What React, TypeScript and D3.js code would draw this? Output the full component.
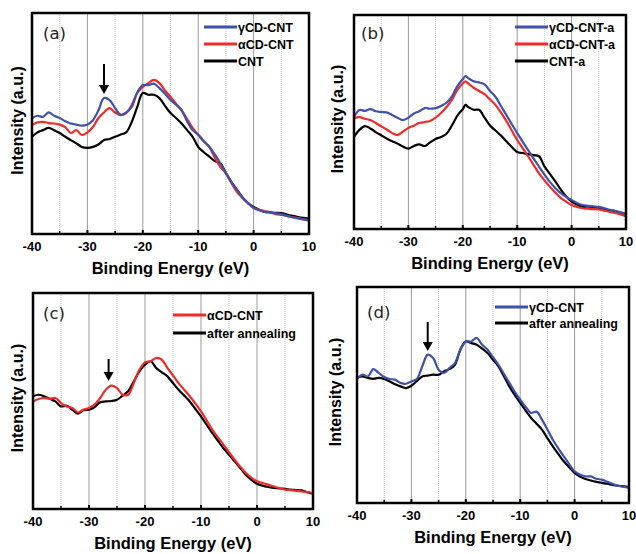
import React, { useEffect, useRef } from 'react';
import * as d3 from 'd3';

type Pt = [number, number];

// panel (a)
const aGamma: Pt[] = [[-40,52.5],[-39,53.5],[-38,53],[-37,55],[-36,53.5],[-35,52.5],[-34,51],[-33,50],[-32,49.5],[-31,49],[-30,49.5],[-29,51.5],[-28,56],[-27,61.5],[-26,60.6],[-25,57],[-24,54],[-23,55],[-22,57.5],[-21,64],[-20,67.4],[-19,67.4],[-18,68],[-17,66],[-16,63.5],[-15,60.6],[-14,58.5],[-13,56],[-12,51],[-11,47],[-10,45],[-9,42],[-8,39.5],[-7,36],[-6,32],[-5,27.5],[-4,23.5],[-3,20],[-2,16.5],[-1,14],[0,11.8],[1,10.8],[2,10],[3,9.8],[4,9.3],[5,9],[6,8.2],[7,7.6],[8,7],[9,6.6],[10,6.3]];
const aAlpha: Pt[] = [[-40,49.3],[-39,50.5],[-38,50.7],[-37,50.2],[-36,50],[-35,49.5],[-34,48.4],[-33,45.7],[-32,47],[-31,44.8],[-30,46],[-29,48.4],[-28,52.5],[-27,55],[-26,57],[-25,55],[-24,53.8],[-23,54.7],[-22,58.4],[-21,63.8],[-20,66.5],[-19,68.3],[-18,69.7],[-17,68.3],[-16,65],[-15,62],[-14,59],[-13,56],[-12,52],[-11,48],[-10,44.8],[-9,42],[-8,39.4],[-7,34.5],[-6,30.3],[-5,27.6],[-4,23],[-3,19],[-2,16.3],[-1,14],[0,11.8],[1,11],[2,10.4],[3,9.8],[4,9],[5,8.6],[6,8.2],[7,7.6],[8,7.2],[9,6.6],[10,6]];
const aCnt: Pt[] = [[-40,44],[-39,46],[-38,47],[-37,48],[-36,47],[-35,45.7],[-34,44],[-33,42.5],[-32,41],[-31,39.4],[-30,39],[-29,39.4],[-28,40.5],[-27,42.5],[-26,43],[-25,44],[-24,45],[-23,46],[-22,50.7],[-21,57.5],[-20,63.8],[-19,63],[-18,63],[-17,61.5],[-16,58],[-15,54.7],[-14,52.5],[-13,50],[-12,47],[-11,44],[-10,39.4],[-9,37],[-8,35],[-7,33],[-6,32],[-5,27.6],[-4,23.5],[-3,20],[-2,16.5],[-1,14],[0,12.2],[1,11],[2,10],[3,9.8],[4,9.6],[5,9.5],[6,8.8],[7,8.2],[8,7.7],[9,7.3],[10,7]];

// panel (b)
const bGamma: Pt[] = [[-40,52.3],[-39,55.6],[-38,55.2],[-37,56],[-36,55],[-35,54.7],[-34,54.5],[-33,53.3],[-32,52],[-31,50.9],[-30,52],[-29,54],[-28,55],[-27,56.5],[-26,56.2],[-25,56.5],[-24,57.5],[-23,59],[-22,62],[-21,66.8],[-20,70],[-19.5,71.5],[-19,70.5],[-18,69],[-17,68.5],[-16,67.6],[-15,64.5],[-14,61.8],[-13,57.5],[-12,53.3],[-11,49],[-10,44.8],[-9,40.8],[-8,36.9],[-7,33],[-6,29.2],[-5,25.5],[-4,22],[-3,19.2],[-2,16.8],[-1,15],[0,13.6],[1,12.2],[2,11.2],[3,10.8],[4,10.5],[5,10.3],[6,9.7],[7,9],[8,8.4],[9,7.7],[10,7]];
const bAlpha: Pt[] = [[-40,51.7],[-39,52.3],[-38,51.5],[-37,50.9],[-36,49.5],[-35,48],[-34,46.5],[-33,44.8],[-32,43.9],[-31,45.5],[-30,47.2],[-29,48.3],[-28,49.5],[-27,50],[-26,50.5],[-25,52],[-24,54.2],[-23,57],[-22,60.3],[-21,65],[-20,68],[-19.5,69],[-19,68],[-18,66],[-17,64.5],[-16,63],[-15,60.5],[-14,58],[-13,54.5],[-12,50.5],[-11,46],[-10,41.6],[-9,37.8],[-8,34],[-7,30],[-6,26],[-5,22.8],[-4,19.8],[-3,17],[-2,14.5],[-1,12.8],[0,11.2],[1,10.3],[2,9.7],[3,9.5],[4,9.3],[5,9.2],[6,8.6],[7,8],[8,7.5],[9,6.8],[10,6]];
const bCnt: Pt[] = [[-40,43],[-39,46.3],[-38,48.1],[-37,47],[-36,45.3],[-35,43.8],[-34,42.3],[-33,41],[-32,39.9],[-31,38.5],[-30,37.6],[-29,38.8],[-28,39.5],[-27,38.8],[-26,40.5],[-25,42.1],[-24,43],[-23,44.5],[-22,48.4],[-21,53],[-20,56],[-19.5,58],[-19,57],[-18,55.7],[-17,55.7],[-16,52],[-15,48.4],[-14,46],[-13,43.7],[-12,41],[-11,38.3],[-10,36],[-9,35.5],[-8,35],[-7,34.5],[-6,34],[-5,29.3],[-4,25.8],[-3,22.3],[-2,18.5],[-1,15.2],[0,12.8],[1,11.5],[2,10.3],[3,10.5],[4,10.3],[5,9.8],[6,9.3],[7,8.8],[8,8.4],[9,7.7],[10,7]];

// panel (c)
const cAlpha: Pt[] = [[-40,49.8],[-39,50.9],[-38,51.4],[-37,51],[-36,51.4],[-35,49],[-34,47.5],[-33,46.8],[-32,44.8],[-31,46],[-30,46.8],[-29,48.3],[-28,51.4],[-27,55.2],[-26,57.1],[-25,56],[-24,52.9],[-23,52.9],[-22,58.3],[-21,64.5],[-20,67.9],[-19,68.4],[-18,69.9],[-17,69.1],[-16,65.3],[-15,61.8],[-14,58.3],[-13,55.2],[-12,52.2],[-11,48.8],[-10,45.2],[-9,41],[-8,36.7],[-7,33.2],[-6,29.8],[-5,26.3],[-4,22.8],[-3,19.6],[-2,16.7],[-1,14.5],[0,12.8],[1,12],[2,11.3],[3,10.4],[4,9.6],[5,9],[6,8.7],[7,8.4],[8,8.2],[9,7.8],[10,7.4]];
const cAnneal: Pt[] = [[-40,52.2],[-39,52.9],[-38,52.2],[-37,51],[-36,49.8],[-35,47.5],[-34,47.8],[-33,46],[-32,44.1],[-31,45.7],[-30,46],[-29,47.2],[-28,49.4],[-27,49.8],[-26,50],[-25,50.6],[-24,52.5],[-23,54.5],[-22,59.1],[-21,63.7],[-20,66.8],[-19,68.4],[-18,65.3],[-17,63.3],[-16,61.4],[-15,58.3],[-14,55.2],[-13,52.5],[-12,49.8],[-11,46.3],[-10,42.9],[-9,39],[-8,35.2],[-7,31.7],[-6,28.2],[-5,25.1],[-4,22.1],[-3,19],[-2,15.9],[-1,13.5],[0,11.7],[1,10.8],[2,10.2],[3,9.8],[4,9.5],[5,9.3],[6,9],[7,8.8],[8,8.6],[9,7.8],[10,7.1]];

// panel (d)
const dGamma: Pt[] = [[-40,57.4],[-39,59.4],[-38,58.6],[-37,62],[-36,60.2],[-35,58.3],[-34,57.4],[-33,57.1],[-32,55.6],[-31,55.2],[-30,56.3],[-29,57.4],[-28,63.3],[-27,68.7],[-26,67.1],[-25,61.7],[-24,60.2],[-23,62.5],[-22,64.8],[-21,71],[-20,74.8],[-19,74.8],[-18,76.4],[-17,73.3],[-16,71],[-15,67.5],[-14,64],[-13,59.8],[-12,55.6],[-11,51.5],[-10,47.8],[-9,44.5],[-8,41.7],[-7,42.3],[-6,38.6],[-5,34],[-4,29.3],[-3,25.3],[-2,21.6],[-1,18],[0,14.7],[1,13.2],[2,12.3],[3,12.3],[4,11.2],[5,10.8],[6,9.8],[7,8.8],[8,8],[9,7.5],[10,7]];
const dAnneal: Pt[] = [[-40,57.9],[-39,58.6],[-38,57.9],[-37,57.5],[-36,57.9],[-35,57.4],[-34,56.3],[-33,55],[-32,54],[-31,53.2],[-30,54.3],[-29,56.5],[-28,58.6],[-27,59],[-26,59.4],[-25,59.4],[-24,61],[-23,62],[-22,64],[-21,71],[-20,74.8],[-19,74],[-18,73.3],[-17,71.5],[-16,69.4],[-15,66.3],[-14,63.3],[-13,58.7],[-12,54],[-11,50],[-10,46.3],[-9,42.8],[-8,39.4],[-7,36.7],[-6,34],[-5,30],[-4,26.2],[-3,22.7],[-2,19.3],[-1,16.5],[0,13.9],[1,12.2],[2,11.1],[3,10.4],[4,9.8],[5,9.3],[6,8.9],[7,8.4],[8,8],[9,7.7],[10,7.4]];

const xTicks = [-40, -30, -20, -10, 0, 10];
const xMinor = [-35, -25, -15, -5, 5];
const arrowAt = [-27, -26.5, -27];

const BLUE = '#3f51a8';
const RED = '#f02a2a';
const BLACK = '#000';

interface Panel {
  tag: string;
  left: number; top: number; right: number; bottom: number;
  series: { name: string; data: Pt[]; color: string }[];
  legendX: number; legendY: number; legendGap: number;
  tagX: number; tagY: number;
  titleX: number;
  arrow?: { x: number; y1: number; y2: number };
}

const panels: Panel[] = [
  {
    tag: '(a)', left: 32, top: 13, right: 309, bottom: 234,
    series: [
      { name: 'γCD-CNT', data: aGamma, color: BLUE },
      { name: 'αCD-CNT', data: aAlpha, color: RED },
      { name: 'CNT', data: aCnt, color: BLACK },
    ],
    legendX: 204, legendY: 27, legendGap: 17, tagX: 43, tagY: 39, titleX: 18,
    arrow: { x: arrowAt[0], y1: 64, y2: 94 },
  },
  {
    tag: '(b)', left: 354, top: 15, right: 626, bottom: 229,
    series: [
      { name: 'γCD-CNT-a', data: bGamma, color: BLUE },
      { name: 'αCD-CNT-a', data: bAlpha, color: RED },
      { name: 'CNT-a', data: bCnt, color: BLACK },
    ],
    legendX: 515, legendY: 27, legendGap: 17, tagX: 361, tagY: 39, titleX: 338,
  },
  {
    tag: '(c)', left: 33, top: 293, right: 313, bottom: 509,
    series: [
      { name: 'αCD-CNT', data: cAlpha, color: RED },
      { name: 'after annealing', data: cAnneal, color: BLACK },
    ],
    legendX: 173, legendY: 315, legendGap: 18, tagX: 43, tagY: 319, titleX: 18,
    arrow: { x: arrowAt[1], y1: 359, y2: 381 },
  },
  {
    tag: '(d)', left: 357, top: 287, right: 629, bottom: 503,
    series: [
      { name: 'γCD-CNT', data: dGamma, color: BLUE },
      { name: 'after annealing', data: dAnneal, color: BLACK },
    ],
    legendX: 495, legendY: 307, legendGap: 16, tagX: 367, tagY: 318, titleX: 336,
    arrow: { x: arrowAt[2], y1: 322, y2: 351 },
  },
];

const App = () => {
  const ref = useRef<SVGSVGElement>(null);

  useEffect(() => {
    const svg = d3.select(ref.current);
    svg.selectAll('*').remove();
    const font = 'Liberation Sans, Arial, sans-serif';

    panels.forEach((p) => {
      const x = d3.scaleLinear().domain([-40, 10]).range([p.left, p.right]);
      const y = d3.scaleLinear().domain([0, 100]).range([p.bottom, p.top]);
      const g = svg.append('g');

      // grid
      g.selectAll('.minor').data(xMinor).enter().append('line')
        .attr('x1', (d) => x(d)).attr('x2', (d) => x(d))
        .attr('y1', p.top).attr('y2', p.bottom)
        .attr('stroke', '#c8c8c8').attr('stroke-width', 1).attr('stroke-dasharray', '1,1');
      g.selectAll('.major').data(xTicks.slice(1, -1)).enter().append('line')
        .attr('x1', (d) => x(d)).attr('x2', (d) => x(d))
        .attr('y1', p.top).attr('y2', p.bottom)
        .attr('stroke', '#9a9a9a').attr('stroke-width', 1);

      // curves, drawn back to front
      const line = d3.line<Pt>().x((d) => x(d[0])).y((d) => y(d[1])).curve(d3.curveCatmullRom);
      [...p.series].reverse().forEach((s) => {
        g.append('path').attr('d', line(s.data)).attr('fill', 'none')
          .attr('stroke', s.color).attr('stroke-width', 2.2).attr('stroke-linejoin', 'round');
      });

      // inner ticks
      g.selectAll('.tk').data(xTicks).enter().append('line')
        .attr('x1', (d) => x(d)).attr('x2', (d) => x(d))
        .attr('y1', p.bottom).attr('y2', p.bottom - 4)
        .attr('stroke', '#000').attr('stroke-width', 2);
      g.selectAll('.mtk').data(xMinor).enter().append('line')
        .attr('x1', (d) => x(d)).attr('x2', (d) => x(d))
        .attr('y1', p.bottom).attr('y2', p.bottom - 3)
        .attr('stroke', '#000').attr('stroke-width', 1.5);

      // frame
      g.append('rect').attr('x', p.left).attr('y', p.top)
        .attr('width', p.right - p.left).attr('height', p.bottom - p.top)
        .attr('fill', 'none').attr('stroke', '#000').attr('stroke-width', 2.5);

      // tick labels
      g.selectAll('.tl').data(xTicks).enter().append('text')
        .attr('x', (d) => x(d)).attr('y', p.bottom + 17)
        .attr('text-anchor', 'middle').attr('font-family', font)
        .attr('font-weight', 'bold').attr('font-size', 13)
        .text((d) => String(d));

      g.append('text').attr('x', (p.left + p.right) / 2).attr('y', p.bottom + 40)
        .attr('text-anchor', 'middle').attr('font-family', font)
        .attr('font-weight', 'bold').attr('font-size', 16.5)
        .text('Binding Energy (eV)');

      g.append('text')
        .attr('transform', `translate(${p.titleX + 5},${(p.top + p.bottom) / 2 - 3}) rotate(-90)`)
        .attr('text-anchor', 'middle').attr('font-family', font)
        .attr('font-weight', 'bold').attr('font-size', 16)
        .text('Intensity (a.u.)');

      g.append('text').attr('x', p.tagX).attr('y', p.tagY)
        .attr('font-family', 'DejaVu Sans, sans-serif').attr('font-size', 16.5).attr('fill', '#222')
        .text(p.tag);

      // legend
      p.series.forEach((s, i) => {
        const ly = p.legendY + i * p.legendGap;
        g.append('line').attr('x1', p.legendX).attr('x2', p.legendX + 33)
          .attr('y1', ly).attr('y2', ly).attr('stroke', s.color).attr('stroke-width', 3);
        g.append('text').attr('x', p.legendX + 34).attr('y', ly + 4.5)
          .attr('font-family', font).attr('font-weight', 'bold').attr('font-size', 12.5)
          .text(s.name);
      });

      if (p.arrow) {
        const ax = x(p.arrow.x);
        g.append('line').attr('x1', ax).attr('x2', ax).attr('y1', p.arrow.y1).attr('y2', p.arrow.y2 - 6)
          .attr('stroke', '#000').attr('stroke-width', 2);
        g.append('path')
          .attr('d', `M${ax - 5},${p.arrow.y2 - 9}L${ax + 5},${p.arrow.y2 - 9}L${ax},${p.arrow.y2}Z`)
          .attr('fill', '#000');
      }
    });
  }, []);

  return <svg ref={ref} width={636} height={554} style={{ position: 'absolute', left: 0, top: 0, background: '#fff' }} />;
};

export default App;
